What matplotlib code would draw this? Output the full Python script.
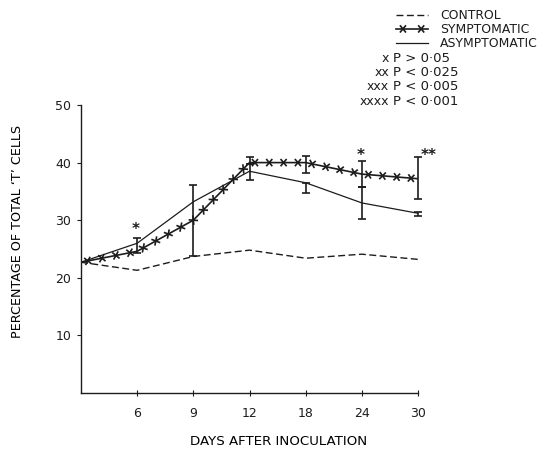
import numpy as np
import matplotlib
matplotlib.use("Agg")
import matplotlib.pyplot as plt
import matplotlib.patheffects as pe

# x categories (first point is the start, not labelled)
days = ["", "6", "9", "12", "18", "24", "30"]

control = [22.7, 21.3, 23.7, 24.8, 23.4, 24.1, 23.2]
symptomatic = [22.7, 24.6, 30.0, 40.0, 40.0, 38.0, 37.2]
asymptomatic = [22.7, 26.0, 33.2, 38.5, 36.5, 33.0, 31.2]

# error bars (below / above the mean)
sym_err_lo = [0, 0.3, 6.3, 0.2, 1.8, 2.2, 3.5]
sym_err_hi = [0, 2.3, 6.1, 1.0, 1.2, 2.3, 3.8]
asym_err_lo = [0, 0, 0, 1.5, 1.8, 2.8, 0.5]
asym_err_hi = [0, 0, 0, 1.3, 0, 2.8, 0.3]

# significance marks
sig_idx = [1, 5, 6]
sig_y = [28.6, 41.5, 41.4]
sig_marks = ["*", "*", "**"]

p_marks = ["x", "xx", "xxx", "xxxx"]
p_texts = ["P > 0·05", "P < 0·025", "P < 0·005", "P < 0·001"]

ink = "#1c1c1c"
plt.rcParams["font.family"] = "DejaVu Sans"
plt.rcParams["text.color"] = ink

W, H = 541, 454
fig = plt.figure(figsize=(W / 100, H / 100), dpi=100)
ax = fig.add_axes([81 / W, 1 - 393 / H, 337 / W, 288 / H])

x = np.arange(len(days))

star = [pe.Normal()] + [pe.TickedStroke(spacing=10, angle=a, length=0.28)
                        for a in (50, -50, 130, -130)]

ax.plot(x, control, color=ink, lw=1.0, ls=(0, (5, 2.5)), label="CONTROL")
ax.plot(x, symptomatic, color=ink, lw=1.2, label="SYMPTOMATIC",
        path_effects=star)
ax.plot(x, asymptomatic, color=ink, lw=0.9, label="ASYMPTOMATIC")


def bars(vals, lo, hi):
    lo = np.array(lo)
    hi = np.array(hi)
    keep = (lo + hi) > 0
    ax.errorbar(x[keep], np.array(vals)[keep], yerr=[lo[keep], hi[keep]],
                fmt="none", ecolor=ink, elinewidth=1.2, capsize=2.6,
                capthick=1.2, clip_on=False)


bars(symptomatic, sym_err_lo, sym_err_hi)
bars(asymptomatic, asym_err_lo, asym_err_hi)

for i, yv, m in zip(sig_idx, sig_y, sig_marks):
    dx = 8 if len(m) > 1 else -1
    ax.annotate(m, (x[i], yv), xytext=(dx, -1), textcoords="offset points",
                ha="center", va="center", fontsize=11, fontweight="bold")

ax.set_xlim(0, 6)
ax.set_ylim(0, 50)
ax.set_xticks(x[1:])
ax.set_xticklabels(days[1:])
ax.set_yticks([10, 20, 30, 40, 50])
for s in ("top", "right"):
    ax.spines[s].set_visible(False)
for s in ("left", "bottom"):
    ax.spines[s].set_color(ink)
    ax.spines[s].set_linewidth(1.0)
ax.tick_params(axis="x", direction="inout", length=4, pad=8, labelsize=9,
               colors=ink)
ax.tick_params(axis="y", direction="out", length=3, pad=4, labelsize=9,
               colors=ink)

ax.set_xlabel("DAYS AFTER INOCULATION", fontsize=9.6)
ax.xaxis.set_label_coords(0.585, -0.145)
ax.set_ylabel("PERCENTAGE OF TOTAL \u2018T\u2019 CELLS", fontsize=9.2,
              va="center")
ax.yaxis.set_label_coords(-0.187, 0.56)

fig.legend(loc="upper left", bbox_to_anchor=(396 / W, 1 - 9 / H),
           frameon=False, fontsize=8.9, handlelength=2.6, handletextpad=0.95,
           labelspacing=0.1, borderpad=0, borderaxespad=0)

for k, (m, t) in enumerate(zip(p_marks, p_texts)):
    yy = 1 - (58 + 14.5 * k) / H
    fig.text(389 / W, yy, m, ha="right", va="center", fontsize=9)
    fig.text(393 / W, yy, t, ha="left", va="center", fontsize=9.5)

fig.savefig("out.png", dpi=100)
